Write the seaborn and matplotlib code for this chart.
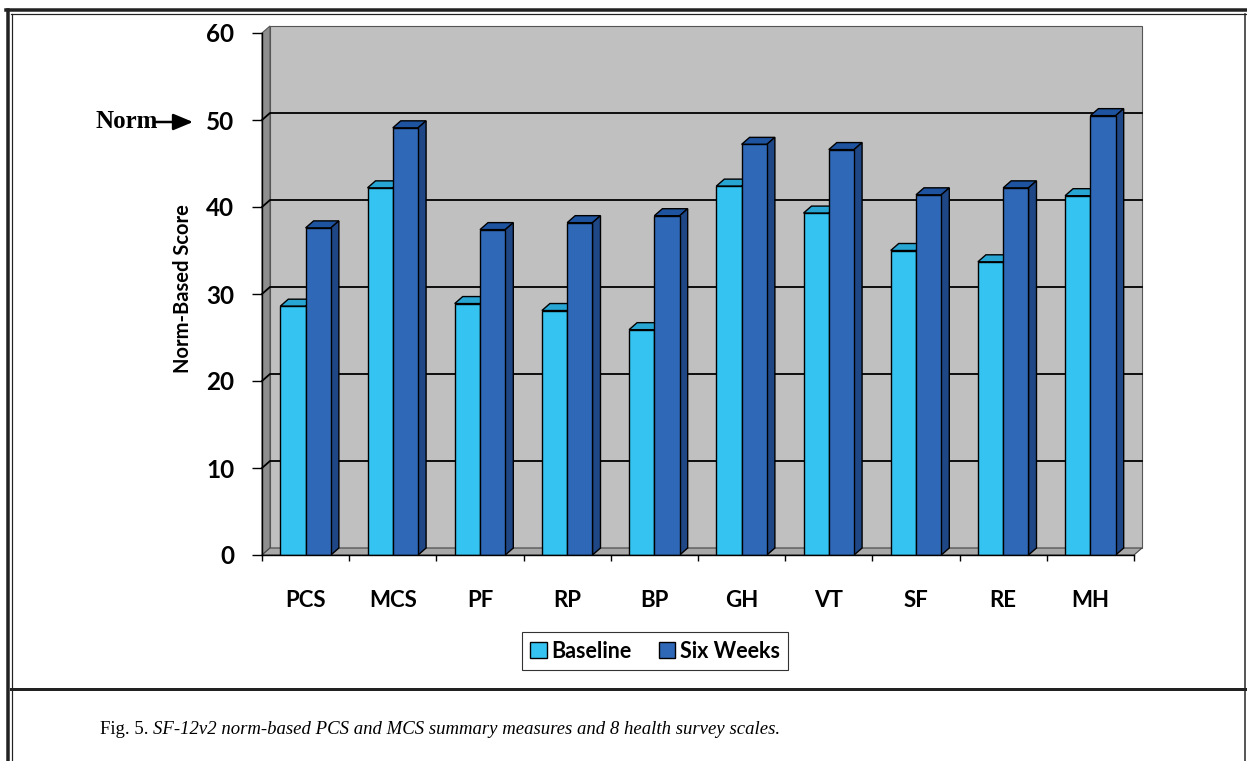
import numpy as np
import pandas as pd
import matplotlib
matplotlib.use("Agg")
import matplotlib.pyplot as plt
from matplotlib.patches import Polygon, Rectangle, Patch, FancyArrowPatch
from matplotlib.lines import Line2D
import seaborn as sns

# SF-12v2 scores
scales = ["PCS", "MCS", "PF", "RP", "BP", "GH", "VT", "SF", "RE", "MH"]
baseline = [28.6, 42.2, 28.9, 28.1, 25.9, 42.4, 39.3, 35.0, 33.7, 41.3]
six_weeks = [37.6, 49.1, 37.4, 38.2, 39.0, 47.2, 46.6, 41.4, 42.2, 50.5]
groups = ["Baseline", "Six Weeks"]
yticks = [0, 10, 20, 30, 40, 50, 60]

W, H = 1247, 761
light, dark = "#35C4F1", "#2F68B7"
tops = ["#27A6D4", "#1E53A0"]
sides = ["#1E8DB8", "#1F4786"]


def px(x, y):
    # pixel (from top-left) -> figure fraction
    return x / W, 1 - y / H


def frame(fig):
    def line(x0, y0, x1, y1, lw):
        a, b = px(x0, y0)
        c, d = px(x1, y1)
        fig.add_artist(Line2D([a, c], [b, d], color="#222222", lw=lw * 0.72,
                              transform=fig.transFigure))
    line(6, 10, W, 10, 3.5)
    line(11, 13.5, W, 13.5, 1.2)
    line(7.5, 10, 7.5, H, 3.5)
    line(11.5, 13.5, 11.5, H, 1.2)
    line(1244.5, 13.5, 1244.5, H, 1.5)
    line(11, 689, 1244.5, 689, 3)


def main():
    plt.rcParams["font.family"] = ["Lato", "DejaVu Sans"]
    df = pd.DataFrame({
        "scale": scales * 2,
        "value": baseline + six_weeks,
        "when": [groups[0]] * len(scales) + [groups[1]] * len(scales),
    })

    fig = plt.figure(figsize=(W / 100, H / 100), dpi=100)
    l, b = px(262, 555)
    ax = fig.add_axes([l, b, 872 / W, 522 / H])

    sns.barplot(data=df, x="scale", y="value", hue="when", palette=[light, dark],
                width=0.58, saturation=1, edgecolor="black", linewidth=1,
                legend=False, ax=ax)
    n = len(scales)
    ax.set_xlim(-0.5, n - 0.5)
    ax.set_ylim(yticks[0], yticks[-1])
    ymax = yticks[-1]

    # depth of the fake 3d, in data units
    dx = 8 / (872 / n)
    dy = 7 / (522 / ymax)

    # walls and floor
    ax.add_patch(Rectangle((-0.5 + dx, dy), n, ymax, facecolor="#C0C0C0",
                           edgecolor="#555555", lw=0.8, zorder=0.1, clip_on=False))
    ax.add_patch(Polygon([(-0.5, 0), (-0.5 + dx, dy), (-0.5 + dx, ymax + dy), (-0.5, ymax)],
                         facecolor="#8E8E8E", edgecolor="#555555", lw=0.8,
                         zorder=0.2, clip_on=False))
    ax.add_patch(Polygon([(-0.5, 0), (n - 0.5, 0), (n - 0.5 + dx, dy), (-0.5 + dx, dy)],
                         facecolor="#A8A8A8", edgecolor="#444444", lw=0.8,
                         zorder=0.3, clip_on=False))
    for y in yticks[1:-1]:
        ax.plot([-0.5, -0.5 + dx, n - 0.5 + dx], [y, y + dy, y + dy],
                color="black", lw=1.3, zorder=0.5, clip_on=False)

    # bar tops and sides
    for i, cont in enumerate(ax.containers):
        for bar in cont:
            x0, w, h = bar.get_x(), bar.get_width(), bar.get_height()
            z = 3 + i
            bar.set_zorder(z)
            ax.add_patch(Polygon([(x0, h), (x0 + w, h), (x0 + w + dx, h + dy), (x0 + dx, h + dy)],
                                 facecolor=tops[i], edgecolor="black", lw=1,
                                 zorder=z - 0.1, clip_on=False))
            ax.add_patch(Polygon([(x0 + w, 0), (x0 + w + dx, dy), (x0 + w + dx, h + dy), (x0 + w, h)],
                                 facecolor=sides[i], edgecolor="black", lw=1,
                                 zorder=z - 0.1, clip_on=False))

    for s in ["top", "right"]:
        ax.spines[s].set_visible(False)
    for s in ["left", "bottom"]:
        ax.spines[s].set_color("black")
        ax.spines[s].set_linewidth(1)
        ax.spines[s].set_zorder(6)
    ax.patch.set_visible(False)

    ax.set_yticks(yticks)
    ax.tick_params(axis="y", length=7, width=1, pad=13, labelsize=17.5)
    ax.set_xticks(np.arange(-0.5, n, 1), minor=True)
    ax.tick_params(axis="x", which="major", length=0, pad=25, labelsize=16)
    ax.tick_params(axis="x", which="minor", length=4.5, width=1)
    for t in ax.get_xticklabels() + ax.get_yticklabels():
        t.set_fontweight("bold")
    ax.set_xlabel("")
    ax.set_ylabel("Norm-Based Score", fontsize=14.5, fontweight="bold")
    ax.yaxis.set_label_coords(-0.079, 0.51)

    # legend
    handles = [Patch(facecolor=light, edgecolor="black"),
               Patch(facecolor=dark, edgecolor="black")]
    leg = fig.legend(handles, groups, loc="center", bbox_to_anchor=px(655, 651),
                     ncol=2, frameon=True, fancybox=False, handlelength=0.75,
                     handleheight=0.75, handletextpad=0.2, columnspacing=1.3,
                     borderpad=0.4, prop={"size": 15.5, "weight": "bold"})
    leg.get_frame().set_edgecolor("black")
    leg.get_frame().set_linewidth(0.8)

    # norm marker
    fig.text(*px(95, 122), "Norm", family="Liberation Serif", fontweight="bold",
             fontsize=18, va="center", ha="left")
    a = FancyArrowPatch(px(156, 122), px(193, 122), transform=fig.transFigure,
                        arrowstyle="-|>,head_length=1.2,head_width=0.5",
                        mutation_scale=10, lw=1.8, color="black",
                        shrinkA=0, shrinkB=0)
    fig.add_artist(a)

    frame(fig)

    # caption, upright part then italic part
    t1 = fig.text(*px(100, 729), "Fig. 5. ", family="Liberation Serif", fontsize=13.5,
                  va="center", ha="left")
    fig.canvas.draw()
    bb = t1.get_window_extent()
    fig.text(bb.x1 / W, 1 - 729 / H,
             "SF-12v2 norm-based PCS and MCS summary measures and 8 health survey scales.",
             family="Liberation Serif", style="italic", fontsize=13.5, va="center", ha="left")

    fig.savefig("out.png", dpi=100)


if __name__ == "__main__":
    main()
